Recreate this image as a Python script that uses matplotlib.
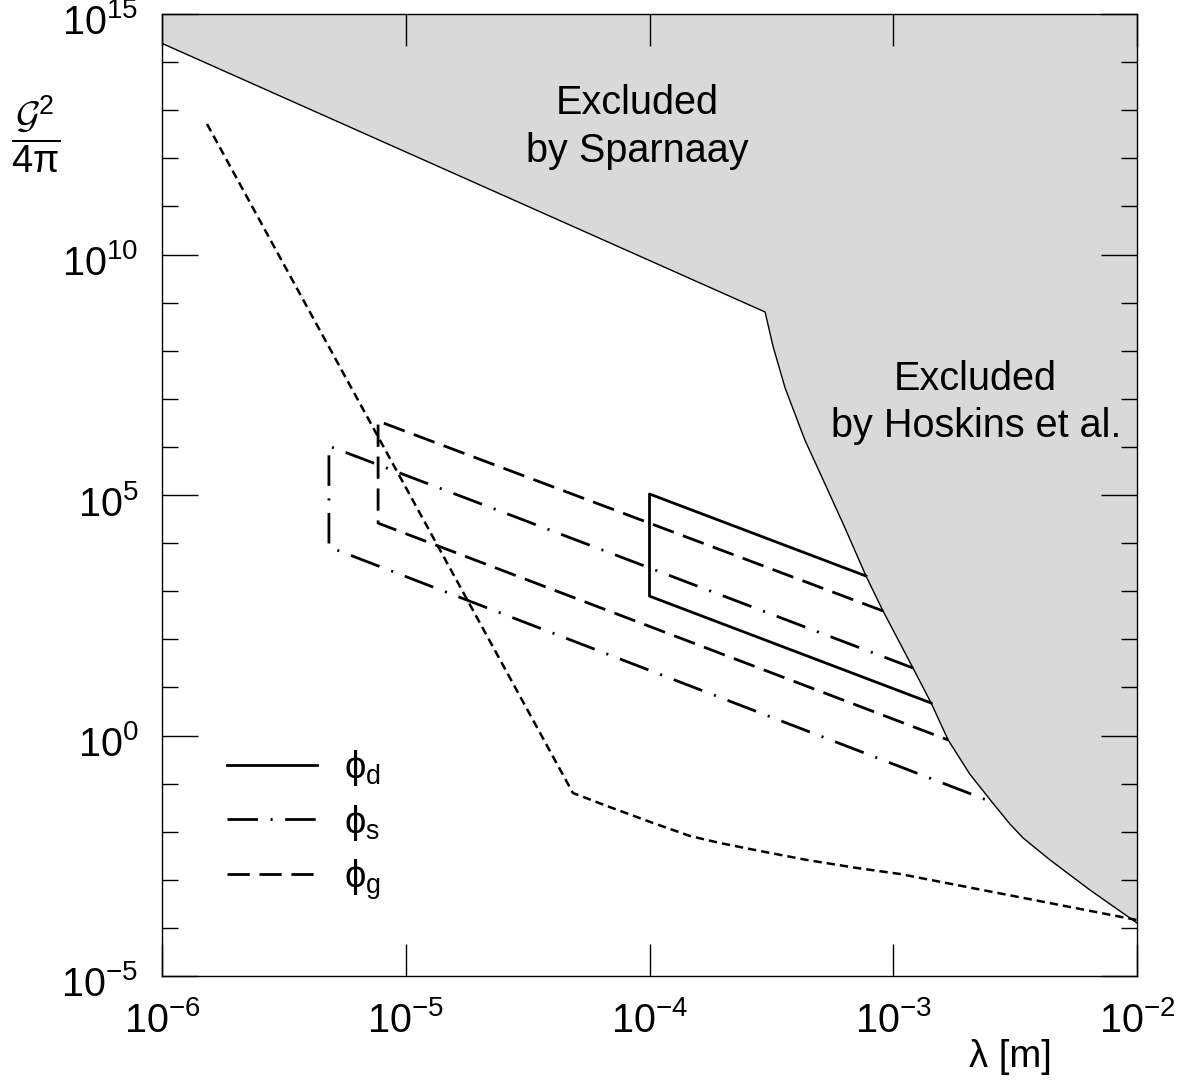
import matplotlib
matplotlib.use("Agg")
import matplotlib.pyplot as plt
from matplotlib.ticker import NullFormatter, NullLocator
from matplotlib.transforms import ScaledTranslation

plt.rcParams['font.family'] = ['Liberation Sans', 'DejaVu Sans']
plt.rcParams['mathtext.fontset'] = 'custom'
plt.rcParams['mathtext.rm'] = 'Liberation Sans'
plt.rcParams['mathtext.it'] = 'Liberation Sans:italic'
plt.rcParams['mathtext.cal'] = 'cmsy10'
plt.rcParams['lines.scale_dashes'] = False

# excluded region: Sparnaay line, then Hoskins et al. curve
spar_lam = [1.0e-6, 2.98e-4]
spar_g = [2.45e14, 6.38e8]
hosk_lam = [3.21e-4, 3.60e-4, 4.34e-4, 5.25e-4, 6.34e-4, 7.73e-4, 9.08e-4,
            1.205e-3, 1.43e-3, 1.68e-3, 2.06e-3, 2.54e-3, 3.01e-3, 3.41e-3,
            4.40e-3, 6.41e-3, 1.0e-2]
hosk_g = [1.25e8, 1.68e7, 1.39e6, 1.69e5, 2.06e4, 2.07e3, 388,
          25.3, 4.74, 0.806, 0.158, 0.0414, 0.01445, 7.4e-3,
          2.58e-3, 6.14e-4, 1.264e-4]

# short-dash curve
dot_lam = [1.53e-6, 4.85e-5, 6.69e-5, 1.034e-4, 1.466e-4, 1.946e-4, 2.84e-4,
           4.43e-4, 7.10e-4, 1.066e-3, 1.0e-2]
dot_g = [5.17e12, 0.0638, 0.0342, 0.01517, 8.14e-3, 5.82e-3, 3.97e-3,
         2.58e-3, 1.76e-3, 1.32e-3, 1.46e-4]

# parameter regions (top-right, top-left, bottom-left, bottom-right)
phid_lam = [7.73e-4, 1.0e-4, 1.0e-4, 1.43e-3]
phid_g = [2.07e3, 1.05e5, 7.9e2, 4.74]
phis_lam = [1.205e-3, 4.84e-6, 4.84e-6, 2.54e-3]
phis_g = [25.3, 1.04e6, 8.3e3, 0.0414]
phig_lam = [9.08e-4, 7.7e-6, 7.7e-6, 1.68e-3]
phig_g = [388, 3.45e6, 2.6e4, 0.806]

xticks = [1e-6, 1e-5, 1e-4, 1e-3, 1e-2]
xlabels = [r'$10^{-6}$', r'$10^{-5}$', r'$10^{-4}$', r'$10^{-3}$', r'$10^{-2}$']
yticks = [1e-5, 1e0, 1e5, 1e10, 1e15]
ylabels = [r'$10^{-5}$', r'$10^{0}$', r'$10^{5}$', r'$10^{10}$', r'$10^{15}$']
yminor = [10.0**k for k in range(-5, 16) if k % 5 != 0]

fs = 27.5

fig = plt.figure(figsize=(11.88, 10.86), dpi=100)
ax = fig.add_axes([162/1188, 110/1086, 975/1188, 962/1086])
ax.set_xscale('log')
ax.set_yscale('log')
ax.set_xlim(1e-6, 1e-2)
ax.set_ylim(1e-5, 1e15)

bx = spar_lam + hosk_lam
by = spar_g + hosk_g
ax.fill_between(bx, by, 1e15, color='#d9d9d9', lw=0, zorder=0)
ax.plot(bx, by, color='black', lw=1.0, zorder=2)

ax.plot(dot_lam, dot_g, color='black', lw=1.8, ls=(0, (6, 3.6)), zorder=3)

ax.plot(phid_lam, phid_g, color='black', lw=2.0, ls='-',
        label=r'ϕ$_{\rm d}$', zorder=3)
ax.plot(phis_lam, phis_g, color='black', lw=2.0, ls=(0, (22, 9, 1.5, 9)),
        label=r'ϕ$_{\rm s}$', zorder=3)
ax.plot(phig_lam, phig_g, color='black', lw=2.0, ls=(0, (16, 7)),
        label=r'ϕ$_{\rm g}$', zorder=3)

ax.text(8.9e-5, 10**12.92, 'Excluded', fontsize=28.5, ha='center', va='baseline')
ax.text(8.9e-5, 10**11.93, 'by Sparnaay', fontsize=28.5, ha='center', va='baseline')
ax.text(2.18e-3, 10**7.18, 'Excluded', fontsize=28.5, ha='center', va='baseline')
ax.text(2.18e-3, 10**6.21, 'by Hoskins et al.', fontsize=28.5, ha='center', va='baseline')

ax.set_xticks(xticks)
ax.set_xticklabels(xlabels)
ax.set_yticks(yticks)
ax.set_yticklabels(ylabels)
ax.set_yticks(yminor, minor=True)
ax.yaxis.set_minor_formatter(NullFormatter())
ax.xaxis.set_minor_locator(NullLocator())

ax.tick_params(which='both', direction='in', top=True, right=True, width=1.0,
               labelsize=28.5)
ax.tick_params(axis='x', which='major', length=23, pad=18)
ax.tick_params(axis='y', which='major', length=26, pad=17)
ax.tick_params(axis='y', which='minor', length=11.5)
for s in ax.spines.values():
    s.set_linewidth(1.0)

# y labels sit a little below their ticks in the original
shift = ScaledTranslation(0, -5/100, fig.dpi_scale_trans)
for lab in ax.get_yticklabels():
    lab.set_transform(lab.get_transform() + shift)

ax.set_xlabel('λ [m]', fontsize=fs, ha='right', va='center')
ax.xaxis.set_label_coords((1052 - 162) / 975, -(1057 - 976) / 962)

fig.text(36/1188, 1 - 134/1086, r'$\dfrac{\mathcal{G}^2}{4\mathrm{\pi}}$', fontsize=fs,
         ha='center', va='center')

ax.legend(loc='upper left', bbox_to_anchor=((227 - 162) / 975, (976 - 748) / 962),
          frameon=False, fontsize=fs, handlelength=2.36, handletextpad=0.71,
          labelspacing=0.38, borderpad=0, borderaxespad=0)

fig.savefig('out.png', dpi=100)
